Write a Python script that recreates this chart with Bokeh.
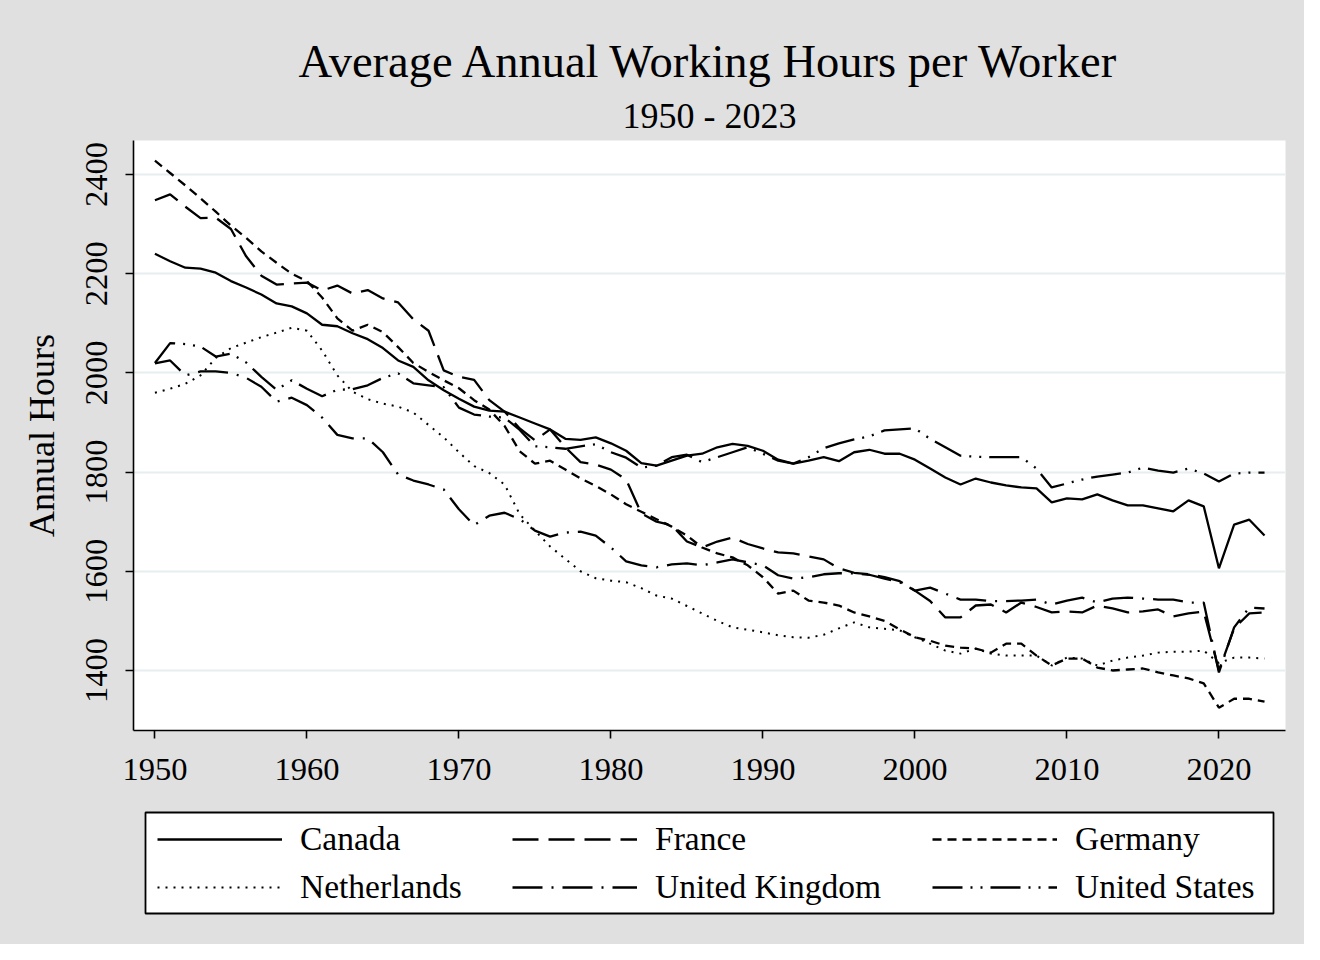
from bokeh.plotting import figure
from bokeh.layouts import column
from bokeh.models import Legend, LegendItem, Title, FixedTicker, Range1d, BoxAnnotation
from bokeh.embed import file_html
from bokeh.resources import INLINE

years = list(range(1950, 2024))

canada = [2240, 2225, 2212, 2210, 2202, 2185, 2172, 2158, 2140, 2134,
          2120, 2097, 2094, 2080, 2068, 2050, 2025, 2012, 1985, 1965,
          1948, 1932, 1924, 1922, 1910, 1898, 1886, 1867, 1865, 1870,
          1858, 1843, 1818, 1813, 1823, 1833, 1837, 1850, 1857, 1853,
          1843, 1825, 1817, 1823, 1830, 1822, 1840, 1845, 1837, 1837,
          1825, 1807, 1789, 1775, 1787, 1779, 1773, 1769, 1767, 1739,
          1747, 1745, 1755, 1743, 1733, 1733, 1727, 1721, 1743, 1731,
          1606, 1694, 1704, 1672]

france = [2348, 2360, 2335, 2312, 2313, 2290, 2235, 2196, 2178, 2180,
          2182, 2166, 2176, 2160, 2167, 2150, 2142, 2108, 2085, 2005,
          1992, 1986, 1945, 1922, 1888, 1864, 1886, 1850, 1820, 1815,
          1805, 1785, 1717, 1700, 1693, 1660, 1648, 1660, 1668, 1655,
          1646, 1638, 1636, 1630, 1624, 1606, 1597, 1594, 1588, 1580,
          1561, 1540, 1507, 1507, 1531, 1533, 1517, 1537, 1528, 1517,
          1519, 1517, 1531, 1525, 1517, 1519, 1523, 1509, 1515, 1519,
          1400, 1485, 1515, 1517]

germany = [2428, 2403, 2378, 2352, 2325, 2297, 2272, 2245, 2222, 2200,
           2185, 2152, 2110, 2085, 2097, 2082, 2052, 2020, 2002, 1985,
           1969, 1945, 1926, 1893, 1842, 1817, 1823, 1805, 1787, 1772,
           1755, 1735, 1720, 1705, 1690, 1672, 1648, 1636, 1628, 1612,
           1588, 1555, 1561, 1541, 1537, 1531, 1517, 1509, 1500, 1483,
           1467, 1460, 1450, 1446, 1444, 1436, 1454, 1454, 1430, 1410,
           1424, 1424, 1406, 1400, 1402, 1404, 1396, 1390, 1384, 1374,
           1325, 1343, 1343, 1337]

netherlands = [1960, 1968, 1978, 1995, 2030, 2050, 2061, 2072, 2081, 2091,
               2085, 2045, 1995, 1962, 1947, 1938, 1932, 1920, 1895, 1870,
               1840, 1812, 1798, 1775, 1715, 1682, 1650, 1625, 1600, 1586,
               1581, 1578, 1566, 1551, 1545, 1530, 1515, 1500, 1487, 1482,
               1477, 1471, 1467, 1466, 1472, 1485, 1497, 1487, 1484, 1481,
               1467, 1454, 1440, 1434, 1444, 1434, 1430, 1430, 1430, 1410,
               1426, 1424, 1410, 1420, 1426, 1430, 1436, 1438, 1438, 1440,
               1415, 1426, 1426, 1424]

united_kingdom = [2019, 2025, 1995, 2003, 2003, 2000, 1990, 1972, 1942, 1950,
                  1935, 1910, 1875, 1868, 1868, 1840, 1795, 1783, 1775, 1765,
                  1725, 1693, 1712, 1718, 1705, 1682, 1670, 1678, 1680, 1672,
                  1648, 1620, 1612, 1608, 1614, 1616, 1612, 1618, 1624, 1618,
                  1612, 1592, 1585, 1588, 1594, 1596, 1596, 1593, 1585, 1578,
                  1561, 1567, 1555, 1543, 1543, 1540, 1540, 1541, 1543, 1533,
                  1541, 1547, 1537, 1545, 1547, 1545, 1543, 1543, 1537, 1537,
                  1396, 1487, 1527, 1525]

united_states = [2020, 2060, 2058, 2053, 2033, 2039, 2021, 1992, 1966, 1985,
                 1968, 1953, 1966, 1967, 1975, 1990, 1999, 1979, 1975, 1971,
                 1930, 1916, 1912, 1910, 1885, 1852, 1850, 1847, 1852, 1856,
                 1840, 1829, 1809, 1813, 1830, 1835, 1820, 1830, 1840, 1850,
                 1837, 1823, 1817, 1830, 1848, 1858, 1866, 1872, 1884, 1886,
                 1888, 1867, 1850, 1833, 1831, 1830, 1830, 1830, 1807, 1769,
                 1777, 1785, 1791, 1795, 1799, 1809, 1803, 1799, 1807, 1797,
                 1781, 1797, 1799, 1799]

countries = ["Canada", "France", "Germany", "Netherlands", "United Kingdom", "United States"]
series = [canada, france, germany, netherlands, united_kingdom, united_states]
dashes = ["solid", "26 10", "9 6", "2 6", "30 9 2 9", "30 8 2 8 2 8"]
widths = [2.3, 2.3, 2.3, 2.0, 2.3, 2.3]

x_ticks = [1950, 1960, 1970, 1980, 1990, 2000, 2010, 2020]
y_ticks = [1400, 1600, 1800, 2000, 2200, 2400]

FONT = "Liberation Serif"
BG = "#e0e0e0"
W = 1304
BL, BR = 133, 19

p = figure(width=W, height=800, output_backend="svg", toolbar_location=None,
           x_range=Range1d(1948.59, 2024.38), y_range=Range1d(1279, 2468.5),
           min_border_left=BL, min_border_right=BR, min_border_top=140,
           min_border_bottom=70)
p.background_fill_color = "white"
p.border_fill_color = BG
p.outline_line_color = None

sub = Title(text="1950 - 2023", align="center", text_font=FONT, text_font_size="36px",
            text_font_style="normal", text_color="black", standoff=10)
main = Title(text="Average Annual Working Hours per Worker", align="center", text_font=FONT,
             text_font_size="46.5px", text_font_style="normal", text_color="black", standoff=4)
p.add_layout(sub, "above")
p.add_layout(main, "above")

for vals, d, w in zip(series, dashes, widths):
    p.line(years, vals, line_color="black", line_width=w, line_dash=d)

for ax in (p.xaxis[0], p.yaxis[0]):
    ax.axis_line_color = "black"
    ax.axis_line_width = 1.6
    ax.major_tick_line_color = "black"
    ax.major_tick_line_width = 1.6
    ax.major_tick_out = 8
    ax.major_tick_in = 0
    ax.minor_tick_line_color = None
    ax.major_label_text_font = FONT
    ax.major_label_text_font_size = "32.5px"
    ax.major_label_text_color = "black"
    ax.axis_label_text_font = FONT
    ax.axis_label_text_font_style = "normal"
    ax.axis_label_text_color = "black"

p.xaxis.ticker = FixedTicker(ticks=x_ticks)
p.yaxis.ticker = FixedTicker(ticks=y_ticks)
p.xaxis.major_label_standoff = 20
p.yaxis.major_label_standoff = 18
p.yaxis.major_label_orientation = "vertical"
p.yaxis.axis_label = "Annual Hours"
p.yaxis.axis_label_text_font_size = "36px"
p.yaxis.axis_label_standoff = 22

p.xgrid.visible = False
p.ygrid.ticker = FixedTicker(ticks=y_ticks)
p.ygrid.grid_line_color = "#e6eef0"
p.ygrid.grid_line_width = 2

# legend panel (separate figure below the chart)
LH = 144
lg = figure(width=W, height=LH, output_backend="svg", toolbar_location=None,
            x_range=Range1d(0, W - BL - BR), y_range=Range1d(0, LH),
            min_border_left=BL, min_border_right=BR, min_border_top=0, min_border_bottom=0)
lg.background_fill_color = BG
lg.border_fill_color = BG
lg.border_fill_alpha = 1.0
lg.outline_line_color = None
lg.axis.visible = False
lg.grid.visible = False

lg.add_layout(BoxAnnotation(left=12, right=1140, bottom=31, top=132,
                            fill_color="white", fill_alpha=1.0,
                            line_color="black", line_alpha=1.0, line_width=1.8))

leg_renderers = []
for vals, d, w in zip(series, dashes, widths):
    leg_renderers.append(lg.line(years, vals, line_color="black", line_width=w, line_dash=d))

col_groups = [(0, 3), (1, 4), (2, 5)]
col_x = [24, 379, 799]
for (a, b), cx in zip(col_groups, col_x):
    items = [LegendItem(label=countries[i], renderers=[leg_renderers[i]]) for i in (a, b)]
    lgd = Legend(items=items, location=(cx, 38),
                 border_line_color=None, background_fill_alpha=0.0,
                 label_text_font=FONT, label_text_font_size="33.5px",
                 label_text_color="black",
                 glyph_width=125, glyph_height=36, label_height=36,
                 label_standoff=18, padding=12, spacing=10, margin=0)
    lg.add_layout(lgd)

layout = column(p, lg, spacing=0, styles={"background-color": BG})
open("out.html", "w").write(file_html(layout, INLINE))
